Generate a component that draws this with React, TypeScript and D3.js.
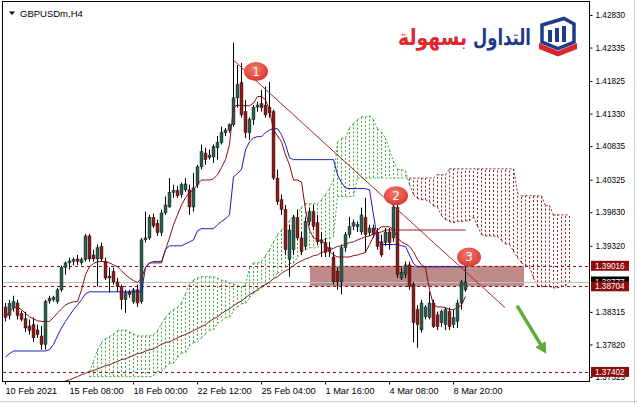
import React, { useRef, useEffect } from 'react';
import * as d3 from 'd3';

// GBPUSDm H4, bar 0 = 10 Feb 2021
const opens = [
  1.3839, 1.3826, 1.3838, 1.3845, 1.3829, 1.3821, 1.3810, 1.3812, 1.3804, 1.3795,
  1.3782, 1.3848, 1.3850, 1.3847, 1.3865, 1.3899, 1.3906, 1.3908, 1.3912, 1.3906,
  1.3911, 1.3947, 1.3918, 1.3912, 1.3931, 1.3908, 1.3886, 1.3893, 1.3877, 1.3870,
  1.3850, 1.3862, 1.3847, 1.3865, 1.3847, 1.3941, 1.3944, 1.3975, 1.3966, 1.3952,
  1.3982, 1.3991, 1.4013, 1.4016, 1.4010, 1.4017, 1.4017, 1.3991, 1.4025, 1.4052,
  1.4073, 1.4066, 1.4067, 1.4081, 1.4089, 1.4104, 1.4108, 1.4116, 1.4157, 1.4180,
  1.4136, 1.4104, 1.4124, 1.4143, 1.4148, 1.4146, 1.4142, 1.4136, 1.4035, 1.4002,
  1.3987, 1.3911, 1.3926, 1.3975, 1.3944, 1.3931, 1.3969, 1.3984, 1.3967, 1.3941,
  1.3937, 1.3929, 1.3915, 1.3893, 1.3877, 1.3929, 1.3949, 1.3962, 1.3961, 1.3953,
  1.3975, 1.3952, 1.3959, 1.3952, 1.3938, 1.3937, 1.3953, 1.3944, 1.3990, 1.3883,
  1.3888, 1.3903, 1.3873, 1.3835, 1.3804, 1.3824, 1.3823, 1.3845, 1.3827, 1.3815,
  1.3812, 1.3832, 1.3812, 1.3817, 1.3845, 1.3865,
];
const highs = [
  1.3845, 1.3850, 1.3856, 1.3850, 1.3833, 1.3832, 1.3820, 1.3823, 1.3812, 1.3810,
  1.3850, 1.3856, 1.3856, 1.3868, 1.3902, 1.3908, 1.3914, 1.3914, 1.3918, 1.3914,
  1.3950, 1.3950, 1.3926, 1.3934, 1.3937, 1.3914, 1.3899, 1.3899, 1.3883, 1.3873,
  1.3865, 1.3865, 1.3868, 1.3873, 1.3944, 1.3984, 1.3979, 1.3981, 1.3972, 1.3987,
  1.4007, 1.4035, 1.4025, 1.4023, 1.4028, 1.4035, 1.4025, 1.4043, 1.4055, 1.4086,
  1.4081, 1.4078, 1.4086, 1.4099, 1.4113, 1.4111, 1.4118, 1.4241, 1.4207, 1.4210,
  1.4154, 1.4127, 1.4146, 1.4151, 1.4169, 1.4174, 1.4181, 1.4139, 1.4048, 1.4010,
  1.3994, 1.3964, 1.3979, 1.3987, 1.3953, 1.3975, 1.3990, 1.3994, 1.3979, 1.3953,
  1.3944, 1.3938, 1.3923, 1.3899, 1.3934, 1.3953, 1.3976, 1.3972, 1.3969, 1.3990,
  1.4005, 1.3964, 1.3964, 1.3959, 1.3949, 1.3959, 1.3959, 1.3994, 1.3994, 1.3899,
  1.3908, 1.3908, 1.3877, 1.3842, 1.3850, 1.3842, 1.3862, 1.3850, 1.3832, 1.3835,
  1.3838, 1.3838, 1.3835, 1.3850, 1.3880, 1.3900,
];
const lows = [
  1.3817, 1.3820, 1.3832, 1.3820, 1.3817, 1.3801, 1.3797, 1.3786, 1.3792, 1.3774,
  1.3774, 1.3844, 1.3847, 1.3844, 1.3862, 1.3888, 1.3896, 1.3902, 1.3903, 1.3903,
  1.3908, 1.3908, 1.3908, 1.3870, 1.3908, 1.3880, 1.3861, 1.3873, 1.3862, 1.3835,
  1.3830, 1.3853, 1.3844, 1.3839, 1.3844, 1.3937, 1.3941, 1.3959, 1.3947, 1.3947,
  1.3979, 1.3990, 1.4005, 1.4005, 1.4005, 1.4014, 1.3979, 1.3984, 1.4020, 1.4048,
  1.4055, 1.4063, 1.4058, 1.4063, 1.4086, 1.4099, 1.4104, 1.4113, 1.4142, 1.4127,
  1.4096, 1.4093, 1.4116, 1.4136, 1.4136, 1.4127, 1.4127, 1.4032, 1.3994, 1.3979,
  1.3918, 1.3885, 1.3918, 1.3941, 1.3918, 1.3926, 1.3964, 1.3956, 1.3934, 1.3915,
  1.3915, 1.3915, 1.3873, 1.3865, 1.3858, 1.3923, 1.3944, 1.3956, 1.3953, 1.3949,
  1.3922, 1.3947, 1.3944, 1.3926, 1.3915, 1.3932, 1.3926, 1.3938, 1.3883, 1.3880,
  1.3883, 1.3865, 1.3785, 1.3777, 1.3800, 1.3820, 1.3820, 1.3807, 1.3804, 1.3809,
  1.3804, 1.3804, 1.3807, 1.3807, 1.3835, 1.3862,
];
const closes = [
  1.3823, 1.3844, 1.3847, 1.3826, 1.3820, 1.3807, 1.3803, 1.3792, 1.3797, 1.3782,
  1.3847, 1.3852, 1.3853, 1.3865, 1.3899, 1.3906, 1.3909, 1.3911, 1.3908, 1.3911,
  1.3947, 1.3912, 1.3912, 1.3929, 1.3912, 1.3883, 1.3883, 1.3877, 1.3870, 1.3850,
  1.3861, 1.3858, 1.3865, 1.3845, 1.3941, 1.3944, 1.3975, 1.3962, 1.3952, 1.3982,
  1.3994, 1.4013, 1.4016, 1.4008, 1.4025, 1.4026, 1.3991, 1.4020, 1.4052, 1.4075,
  1.4063, 1.4070, 1.4083, 1.4089, 1.4104, 1.4108, 1.4116, 1.4157, 1.4177, 1.4131,
  1.4104, 1.4124, 1.4143, 1.4146, 1.4142, 1.4131, 1.4134, 1.4035, 1.3999, 1.3987,
  1.3926, 1.3956, 1.3975, 1.3944, 1.3923, 1.3969, 1.3984, 1.3961, 1.3938, 1.3937,
  1.3922, 1.3923, 1.3877, 1.3877, 1.3929, 1.3949, 1.3961, 1.3967, 1.3964, 1.3979,
  1.3949, 1.3959, 1.3949, 1.3931, 1.3918, 1.3953, 1.3937, 1.3991, 1.3888, 1.3891,
  1.3903, 1.3870, 1.3815, 1.3812, 1.3845, 1.3839, 1.3845, 1.3809, 1.3809, 1.3832,
  1.3835, 1.3809, 1.3823, 1.3845, 1.3877, 1.3877,
];

// Ichimoku lines
const tenkan = [
  1.3823, 1.3832, 1.3838, 1.3838, 1.3835, 1.3829, 1.3824, 1.3821, 1.3818, 1.3817,
  1.3817, 1.3817, 1.3823, 1.3830, 1.3836, 1.3842, 1.3845, 1.3847, 1.3847, 1.3865,
  1.3888, 1.3900, 1.3905, 1.3908, 1.3908, 1.3908, 1.3906, 1.3903, 1.3900, 1.3894,
  1.3888, 1.3883, 1.3879, 1.3876, 1.3883, 1.3899, 1.3906, 1.3908, 1.3908, 1.3908,
  1.3926, 1.3944, 1.3964, 1.3979, 1.3994, 1.4005, 1.4013, 1.4017, 1.4026, 1.4032,
  1.4032, 1.4032, 1.4034, 1.4040, 1.4051, 1.4063, 1.4086, 1.4143, 1.4146, 1.4145,
  1.4145, 1.4145, 1.4149, 1.4159, 1.4159, 1.4154, 1.4139, 1.4108, 1.4099, 1.4090,
  1.4070, 1.4055, 1.4032, 1.4032, 1.4029, 1.3987, 1.3956, 1.3944, 1.3941, 1.3940,
  1.3934, 1.3923, 1.3918, 1.3915, 1.3915, 1.3915, 1.3915, 1.3917, 1.3918, 1.3920,
  1.3922, 1.3934, 1.3946, 1.3956, 1.3961, 1.3961, 1.3961, 1.3956, 1.3944, 1.3938,
  1.3935, 1.3931, 1.3923, 1.3911, 1.3903, 1.3899, 1.3865, 1.3842, 1.3839, 1.3839,
  1.3838, 1.3835, 1.3835, 1.3838, 1.3842, 1.3855,
];
const kijun = [
  1.3763, 1.3768, 1.3772, 1.3772, 1.3772, 1.3772, 1.3772, 1.3772, 1.3772, 1.3772,
  1.3772, 1.3774, 1.3782, 1.3795, 1.3807, 1.3817, 1.3826, 1.3835, 1.3842, 1.3850,
  1.3859, 1.3862, 1.3862, 1.3862, 1.3862, 1.3862, 1.3862, 1.3862, 1.3862, 1.3862,
  1.3862, 1.3862, 1.3862, 1.3862, 1.3862, 1.3899, 1.3906, 1.3906, 1.3906, 1.3906,
  1.3926, 1.3932, 1.3932, 1.3932, 1.3932, 1.3935, 1.3938, 1.3941, 1.3955, 1.3958,
  1.3958, 1.3958, 1.3958, 1.3964, 1.3969, 1.3973, 1.3979, 1.4037, 1.4042, 1.4048,
  1.4078, 1.4090, 1.4096, 1.4098, 1.4098, 1.4104, 1.4108, 1.4110, 1.4110, 1.4101,
  1.4086, 1.4066, 1.4063, 1.4063, 1.4063, 1.4063, 1.4063, 1.4063, 1.4063, 1.4063,
  1.4063, 1.4063, 1.4063, 1.4040, 1.4028, 1.4020, 1.4019, 1.4019, 1.4019, 1.4019,
  1.4019, 1.4017, 1.3979, 1.3941, 1.3934, 1.3934, 1.3934, 1.3934, 1.3934, 1.3932,
  1.3931, 1.3918, 1.3905, 1.3900, 1.3900, 1.3900, 1.3900, 1.3900, 1.3900, 1.3900,
  1.3900, 1.3900, 1.3900, 1.3900, 1.3900, 1.3900,
];

// slow dark red line, starts at bar 15
const SLOW_START = 15;
const slowLine = [
  1.3727, 1.3728, 1.3731, 1.3733, 1.3736, 1.3738, 1.3741, 1.3742, 1.3745, 1.3747,
  1.3750, 1.3751, 1.3754, 1.3756, 1.3759, 1.3760, 1.3763, 1.3765, 1.3768, 1.3769,
  1.3772, 1.3774, 1.3775, 1.3779, 1.3782, 1.3785, 1.3786, 1.3789, 1.3792, 1.3795,
  1.3797, 1.3800, 1.3803, 1.3806, 1.3809, 1.3812, 1.3817, 1.3821, 1.3824, 1.3829,
  1.3833, 1.3836, 1.3841, 1.3845, 1.3848, 1.3853, 1.3858, 1.3861, 1.3865, 1.3870,
  1.3873, 1.3877, 1.3882, 1.3885, 1.3890, 1.3894, 1.3897, 1.3902, 1.3906, 1.3909,
  1.3912, 1.3914, 1.3917, 1.3918, 1.3922, 1.3923, 1.3926, 1.3928, 1.3931, 1.3932,
  1.3934, 1.3937, 1.3938, 1.3941, 1.3943, 1.3946, 1.3947, 1.3950, 1.3952, 1.3953,
  1.3956, 1.3956, 1.3956, 1.3956, 1.3956, 1.3956, 1.3956, 1.3956, 1.3956, 1.3956,
  1.3956, 1.3956, 1.3956, 1.3956, 1.3956, 1.3956, 1.3956, 1.3956, 1.3956, 1.3956,
  1.3956,
];

// cloud, starts at bar 21
const CLOUD_START = 21;
const spanA = [
  1.3741, 1.3756, 1.3774, 1.3785, 1.3791, 1.3794, 1.3798, 1.3803, 1.3804, 1.3804,
  1.3801, 1.3798, 1.3795, 1.3795, 1.3795, 1.3795, 1.3797, 1.3803, 1.3814, 1.3823,
  1.3830, 1.3835, 1.3839, 1.3845, 1.3859, 1.3874, 1.3880, 1.3883, 1.3885, 1.3885,
  1.3885, 1.3885, 1.3883, 1.3880, 1.3879, 1.3876, 1.3874, 1.3871, 1.3870, 1.3873,
  1.3899, 1.3906, 1.3906, 1.3908, 1.3917, 1.3926, 1.3938, 1.3949, 1.3956, 1.3964,
  1.3970, 1.3976, 1.3979, 1.3991, 1.3996, 1.3996, 1.3996, 1.3996, 1.4002, 1.4010,
  1.4019, 1.4032, 1.4090, 1.4095, 1.4096, 1.4111, 1.4118, 1.4124, 1.4128, 1.4128,
  1.4130, 1.4124, 1.4110, 1.4105, 1.4096, 1.4078, 1.4061, 1.4048, 1.4048, 1.4046,
  1.4025, 1.4010, 1.4004, 1.4002, 1.4002, 1.3999, 1.3993, 1.3991, 1.3978, 1.3972,
  1.3969, 1.3967, 1.3969, 1.3969, 1.3970, 1.3970, 1.3976, 1.3962, 1.3949, 1.3947,
  1.3947, 1.3947, 1.3946, 1.3940, 1.3935, 1.3934, 1.3924, 1.3914, 1.3906, 1.3902,
  1.3900, 1.3883, 1.3871, 1.3870, 1.3870, 1.3870, 1.3868, 1.3868, 1.3870, 1.3871,
  1.3877,
];
const spanB = [
  1.3733, 1.3733, 1.3733, 1.3733, 1.3733, 1.3733, 1.3733, 1.3733, 1.3733, 1.3733,
  1.3733, 1.3733, 1.3733, 1.3733, 1.3733, 1.3733, 1.3734, 1.3741, 1.3741, 1.3747,
  1.3753, 1.3753, 1.3762, 1.3769, 1.3769, 1.3779, 1.3785, 1.3785, 1.3792, 1.3798,
  1.3804, 1.3804, 1.3814, 1.3818, 1.3823, 1.3823, 1.3833, 1.3839, 1.3844, 1.3844,
  1.3853, 1.3859, 1.3864, 1.3868, 1.3874, 1.3874, 1.3883, 1.3890, 1.3894, 1.3899,
  1.3905, 1.3905, 1.3915, 1.3922, 1.3926, 1.3929, 1.3929, 1.3929, 1.3937, 1.3943,
  1.3943, 1.3946, 1.4007, 1.4007, 1.4007, 1.4007, 1.4007, 1.4035, 1.4035, 1.4035,
  1.4035, 1.4035, 1.4035, 1.4035, 1.4035, 1.4035, 1.4035, 1.4035, 1.4035, 1.4035,
  1.4035, 1.4035, 1.4035, 1.4035, 1.4035, 1.4035, 1.4035, 1.4040, 1.4040, 1.4040,
  1.4049, 1.4049, 1.4049, 1.4049, 1.4049, 1.4049, 1.4049, 1.4049, 1.4049, 1.4049,
  1.4049, 1.4049, 1.4049, 1.4049, 1.4049, 1.4049, 1.4049, 1.4013, 1.4008, 1.4008,
  1.4008, 1.4008, 1.4008, 1.4008, 1.3993, 1.3993, 1.3979, 1.3979, 1.3979, 1.3979,
  1.3979,
];

// axes
const xTickBars = [0, 16, 32, 48, 64, 80, 96, 112];
const xTickLabels = ['10 Feb 2021', '15 Feb 08:00', '18 Feb 00:00', '22 Feb 12:00', '25 Feb 04:00', '1 Mar 16:00', '4 Mar 08:00', '8 Mar 20:00'];
const yTicks = [1.4283, 1.42335, 1.41825, 1.4133, 1.40835, 1.40325, 1.3983, 1.3932, 1.38315, 1.3782, 1.37325];

// drawn objects
const levels = [1.39016, 1.38704, 1.37402];
const bidPrice = 1.38777;
const zoneBars = [76.25, 129.75];
const zonePrices = [1.39016, 1.38704];
const trendBars = [57, 125];
const trendPrices = [1.4215, 1.3838];
const markerLabels = ['1', '2', '3'];
const markerBars = [62.75, 97.75, 116];
const markerPrices = [1.4197, 1.4008, 1.3915];
const arrowBars = [128, 135.3];
const arrowPrices = [1.3841, 1.3768];

// logo words, right to left
const logoWords = ['التداول', 'بسهولة'];
const logoColors = ['#1f3a8a', '#e1262c'];

const W = 637;
const H = 404;
const AXIS_FONT = "'Liberation Sans', Arial, sans-serif";

const App: React.FC = () => {
  const svgRef = useRef<SVGSVGElement>(null);

  useEffect(() => {
    if (!svgRef.current) return;
    const svg = d3.select(svgRef.current);
    svg.selectAll('*').remove();

    const x = d3.scaleLinear().domain([-0.5, 146.25]).range([3, 590]);
    const y = d3.scaleLinear().domain([1.37264, 1.43012]).range([381, 3]);
    const px = (i: number) => Math.round(x(i)) + 0.5;

    svg.append('rect').attr('width', W).attr('height', H).attr('fill', '#fff');

    const defs = svg.append('defs');
    defs.append('clipPath').attr('id', 'plot-clip')
      .append('rect').attr('x', 3).attr('y', 2).attr('width', 586).attr('height', 379);
    const grad = defs.append('radialGradient').attr('id', 'mark-grad')
      .attr('cx', '45%').attr('cy', '35%').attr('r', '70%');
    grad.append('stop').attr('offset', '0%').attr('stop-color', '#f47a6e');
    grad.append('stop').attr('offset', '100%').attr('stop-color', '#d9332c');

    const g = svg.append('g').attr('clip-path', 'url(#plot-clip)');

    // zone rectangle (background object)
    g.append('rect')
      .attr('x', x(zoneBars[0]))
      .attr('y', y(zonePrices[0]))
      .attr('width', x(zoneBars[1]) - x(zoneBars[0]))
      .attr('height', y(zonePrices[1]) - y(zonePrices[0]))
      .attr('fill', '#bf8a8a');

    // cloud hatch
    const bullCloud = '#46a846';
    const bearCloud = '#8b2525';
    spanA.forEach((a, k) => {
      const i = CLOUD_START + k;
      const b = spanB[k];
      g.append('line')
        .attr('x1', px(i)).attr('x2', px(i))
        .attr('y1', y(a)).attr('y2', y(b))
        .attr('stroke', a >= b ? bullCloud : bearCloud)
        .attr('stroke-width', 1)
        .attr('stroke-dasharray', '2,2');
    });
    // cloud edges
    for (let k = 0; k < spanA.length - 1; k++) {
      const i = CLOUD_START + k;
      const col = spanA[k] >= spanB[k] ? bullCloud : bearCloud;
      [spanA, spanB].forEach(s => {
        g.append('line')
          .attr('x1', px(i)).attr('x2', px(i + 1))
          .attr('y1', y(s[k])).attr('y2', y(s[k + 1]))
          .attr('stroke', col)
          .attr('stroke-width', 1)
          .attr('stroke-dasharray', '2,2');
      });
    }

    // horizontal levels
    levels.forEach(p => {
      g.append('line')
        .attr('x1', 3).attr('x2', 590)
        .attr('y1', Math.round(y(p)) + 0.5).attr('y2', Math.round(y(p)) + 0.5)
        .attr('stroke', '#8b1010')
        .attr('stroke-dasharray', '3,3');
    });
    g.append('line')
      .attr('x1', 3).attr('x2', 590)
      .attr('y1', Math.round(y(bidPrice)) + 0.5).attr('y2', Math.round(y(bidPrice)) + 0.5)
      .attr('stroke', '#c0c0c0');

    // candles
    const idx = d3.range(opens.length);
    const cg = g.append('g');
    cg.selectAll('line.wick').data(idx).enter().append('line')
      .attr('x1', i => px(i)).attr('x2', i => px(i))
      .attr('y1', i => y(highs[i])).attr('y2', i => y(lows[i]))
      .attr('stroke', '#000').attr('stroke-width', 1);
    cg.selectAll('rect.body').data(idx).enter().append('rect')
      .attr('x', i => Math.round(x(i)) - 1)
      .attr('y', i => y(Math.max(opens[i], closes[i])))
      .attr('width', 3)
      .attr('height', i => Math.max(1, Math.abs(y(opens[i]) - y(closes[i]))))
      .attr('fill', i => (closes[i] >= opens[i] ? '#2a6150' : '#8e1b1b'))
      .attr('stroke', '#111')
      .attr('stroke-width', 0.4);

    // indicator lines
    const lineOf = (vals: number[], start: number) =>
      d3.line<number>().x((_, k) => px(start + k)).y(v => y(v))(vals);
    g.append('path').attr('d', lineOf(slowLine, SLOW_START))
      .attr('fill', 'none').attr('stroke', '#8b1a1a').attr('stroke-width', 1);
    g.append('path').attr('d', lineOf(kijun, 0))
      .attr('fill', 'none').attr('stroke', '#1a1ab4').attr('stroke-width', 1);
    g.append('path').attr('d', lineOf(tenkan, 0))
      .attr('fill', 'none').attr('stroke', '#8b0c0c').attr('stroke-width', 1);

    // trend line
    g.append('line')
      .attr('x1', x(trendBars[0])).attr('y1', y(trendPrices[0]))
      .attr('x2', x(trendBars[1])).attr('y2', y(trendPrices[1]))
      .attr('stroke', '#9b2a2a').attr('stroke-width', 1);

    // numbered markers
    markerLabels.forEach((t, k) => {
      const mx = x(markerBars[k]);
      const my = y(markerPrices[k]);
      g.append('ellipse').attr('cx', mx).attr('cy', my).attr('rx', 12).attr('ry', 9.5)
        .attr('fill', 'url(#mark-grad)');
      g.append('text').attr('x', mx).attr('y', my + 4.5)
        .attr('text-anchor', 'middle')
        .attr('font-family', "'DejaVu Sans', sans-serif")
        .attr('font-size', 12)
        .attr('fill', '#fff')
        .text(t);
    });

    // green arrow
    const sx = x(arrowBars[0]), sy = y(arrowPrices[0]);
    const ex = x(arrowBars[1]), ey = y(arrowPrices[1]);
    const len = Math.hypot(ex - sx, ey - sy);
    const ux = (ex - sx) / len, uy = (ey - sy) / len;
    const head = 11;
    g.append('line')
      .attr('x1', sx).attr('y1', sy)
      .attr('x2', ex - ux * head * 0.8).attr('y2', ey - uy * head * 0.8)
      .attr('stroke', '#5aad37').attr('stroke-width', 3.5);
    const bx = ex - ux * head, by = ey - uy * head;
    g.append('polygon')
      .attr('points', [
        [ex, ey],
        [bx - uy * 6, by + ux * 6],
        [bx + uy * 6, by - ux * 6],
      ].map(p => p.join(',')).join(' '))
      .attr('fill', '#5aad37');

    // frame
    svg.append('rect')
      .attr('x', 2.5).attr('y', 1.5).attr('width', 587).attr('height', 380)
      .attr('fill', 'none').attr('stroke', '#000');

    // right axis
    const yAxis = svg.append('g').attr('transform', 'translate(589.5,0)')
      .call(d3.axisRight(y).tickValues(yTicks).tickSize(3).tickFormat(d => d3.format('.5f')(d as number)));
    yAxis.select('.domain').remove();
    yAxis.selectAll('text')
      .attr('x', 6)
      .attr('font-family', AXIS_FONT).attr('font-size', 8.2).attr('fill', '#000');
    yAxis.selectAll('line').attr('stroke', '#000');

    // bottom axis
    const xAxis = svg.append('g').attr('transform', 'translate(0,381.5)')
      .call(d3.axisBottom(x).tickValues(xTickBars).tickSize(3).tickFormat((_, k) => xTickLabels[k]));
    xAxis.select('.domain').remove();
    xAxis.selectAll('.tick').attr('transform', d => `translate(${px(d as number)},0)`);
    xAxis.selectAll('text')
      .attr('text-anchor', 'start').attr('x', 0).attr('y', 6)
      .attr('font-family', AXIS_FONT).attr('font-size', 9.2).attr('fill', '#000');
    xAxis.selectAll('line').attr('stroke', '#000');

    // price tags
    const tag = (p: number, bg: string) => {
      const ty = y(p);
      svg.append('rect').attr('x', 591).attr('y', ty - 5).attr('width', 38).attr('height', 10).attr('fill', bg);
      svg.append('text').attr('x', 595).attr('y', ty + 3)
        .attr('font-family', AXIS_FONT).attr('font-size', 8.2).attr('fill', '#fff')
        .text(d3.format('.5f')(p));
    };
    tag(bidPrice, '#000');
    levels.forEach(p => tag(p, '#8b0d0d'));

    // window borders
    svg.append('line').attr('x1', 634.5).attr('x2', 634.5).attr('y1', 0).attr('y2', H).attr('stroke', '#d4d4d4');
    svg.append('line').attr('x1', 0).attr('x2', W).attr('y1', 401.5).attr('y2', 401.5).attr('stroke', '#d4d4d4');

    // header
    svg.append('polygon').attr('points', '9,11.5 15,11.5 12,15').attr('fill', '#000');
    svg.append('text').attr('x', 20).attr('y', 17)
      .attr('font-family', AXIS_FONT).attr('font-size', 9.5).attr('fill', '#000')
      .text('GBPUSDm,H4');

    // logo: each word squeezed to its measured box
    const logo = svg.append('g');
    const wordBox = [[473, 531], [398, 467]];
    logoWords.forEach((t, k) => {
      const [x0, x1] = wordBox[k];
      const el = logo.append('text')
        .attr('text-anchor', 'middle')
        .attr('font-family', "'DejaVu Sans', sans-serif").attr('font-weight', 'bold')
        .attr('font-size', 22).attr('fill', logoColors[k])
        .text(t);
      const w = (el.node() as SVGTextElement).getComputedTextLength() || (x1 - x0);
      el.attr('transform', `translate(${(x0 + x1) / 2},45) scale(${(x1 - x0) / w},1)`);
    });
    logo.append('path')
      .attr('d', 'M542,25 L564,18.5 L574,24 L574,42 L558,48.5 L542,42 Z')
      .attr('fill', '#fff').attr('stroke', '#1f3a8a').attr('stroke-width', 3.5);
    [[548, 30, 12], [555, 28, 14], [562, 26, 16]].forEach(([bx2, by2, bh]) => {
      logo.append('rect').attr('x', bx2).attr('y', by2).attr('width', 4).attr('height', bh).attr('fill', '#1f3a8a');
    });
    logo.append('path')
      .attr('d', 'M539,43 L558,51 L577,43 L577,49 L558,56.5 L539,49 Z')
      .attr('fill', '#d9262c');
  }, []);

  return (
    <svg
      ref={svgRef}
      width={W}
      height={H}
      style={{ position: 'absolute', left: 0, top: 0, display: 'block' }}
    />
  );
};

export default App;
